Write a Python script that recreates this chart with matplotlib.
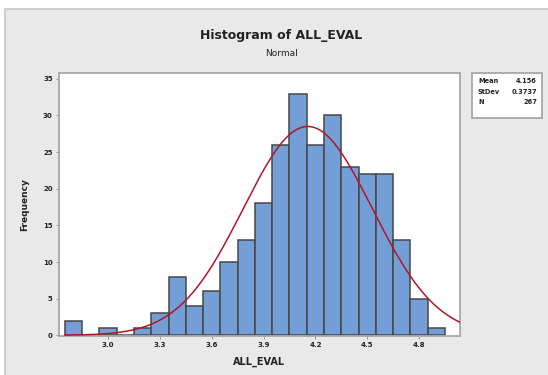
import numpy as np
import matplotlib
matplotlib.use("Agg")
import matplotlib.pyplot as plt
from matplotlib.patches import Rectangle

# histogram data (bin width 0.1)
bin_centers = [2.8, 2.9, 3.0, 3.1, 3.2, 3.3, 3.4, 3.5, 3.6, 3.7, 3.8,
               3.9, 4.0, 4.1, 4.2, 4.3, 4.4, 4.5, 4.6, 4.7, 4.8, 4.9]
counts = [2, 0, 1, 0, 1, 3, 8, 4, 6, 10, 13,
          18, 26, 33, 26, 30, 23, 22, 22, 13, 5, 1]
mean = 4.156
stdev = 0.3737
n = 267
bin_width = 0.1
xticks = [3.0, 3.3, 3.6, 3.9, 4.2, 4.5, 4.8]
yticks = [0, 5, 10, 15, 20, 25, 30, 35]

fig = plt.figure(figsize=(5.48, 3.75), dpi=100)
fig.patch.set_facecolor("white")

# gray minitab panel
W, H = 548, 375
fig.patches.append(Rectangle((5 / W, -0.01), 1, 1 - 9 / H + 0.01, transform=fig.transFigure,
                             facecolor="#e9e9e9", edgecolor="#c8c8c8", lw=1.2, zorder=-5))

ax = fig.add_axes([59 / W, 1 - 336 / H, (460 - 59) / W, (336 - 73) / H])
ax.set_zorder(2)
ax.set_facecolor("white")

ax.bar(bin_centers, counts, width=bin_width, color="#739fd6",
       edgecolor="#474747", linewidth=1.1, zorder=2)

xs = np.linspace(2.75, 5.037, 300)
pdf = n * bin_width / (stdev * np.sqrt(2 * np.pi)) * np.exp(-0.5 * ((xs - mean) / stdev) ** 2)
ax.plot(xs, pdf, color="#b0182a", lw=1.1, zorder=3)

ax.set_xlim(2.716, 5.037)
ax.set_ylim(-0.1, 35.8)
ax.set_xticks(xticks)
ax.set_xticklabels([f"{t:.1f}" for t in xticks])
ax.set_yticks(yticks)
ax.tick_params(axis="both", labelsize=5, length=2.5, width=0.6, color="#888888",
               pad=2, labelcolor="#222222")
for lbl in ax.get_xticklabels() + ax.get_yticklabels():
    lbl.set_fontweight("bold")
for s in ax.spines.values():
    s.set_color("#a8a8a8")
    s.set_linewidth(1.3)

ax.set_xlabel("ALL_EVAL", fontsize=7, fontweight="bold", labelpad=6, color="#222222")
ax.set_ylabel("Frequency", fontsize=6.5, fontweight="bold", labelpad=10, color="#222222")

fig.text(281 / W, 1 - 35 / H, "Histogram of ALL_EVAL", ha="center", va="center",
         fontsize=9, fontweight="bold", color="#222222")
fig.text(281 / W, 1 - 53 / H, "Normal", ha="center", va="center",
         fontsize=6.5, color="#222222")

# stats box
fig.patches.append(Rectangle((472 / W, 1 - 118 / H), 70 / W, 45 / H,
                             transform=fig.transFigure, facecolor="white",
                             edgecolor="#a8a8a8", lw=1.3, zorder=1))
labels = ["Mean", "StDev", "N"]
vals = [f"{mean:.3f}", f"{stdev:.4f}", f"{n}"]
for i, (lab, v) in enumerate(zip(labels, vals)):
    y = 1 - (81 + i * 10.5) / H
    fig.text(478 / W, y, lab, ha="left", va="center", fontsize=4.8,
             fontweight="bold", color="#222222", zorder=2)
    fig.text(537 / W, y, v, ha="right", va="center", fontsize=4.8,
             fontweight="bold", color="#222222", zorder=2)

fig.savefig("out.png", dpi=100)
